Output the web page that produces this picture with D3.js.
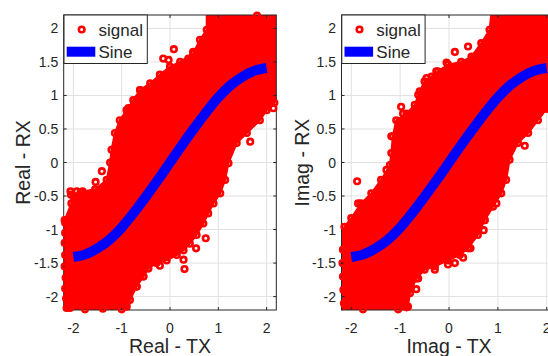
<!DOCTYPE html>
<html><head><meta charset="utf-8">
<script src="https://cdn.jsdelivr.net/npm/d3@7"></script>
<style>
body{margin:0;background:#fff}
svg{display:block}
text{font-family:'Liberation Sans',Arial,Helvetica,sans-serif;fill:#262626}
</style></head>
<body><svg id="c" width="548" height="356"></svg>
<script>
// ---- data ----
const xTicks = [-2, -1, 0, 1, 2];
const yTicks = [-2, -1.5, -1, -0.5, 0, 0.5, 1, 1.5, 2];
const xTickLabels = ["-2", "-1", "0", "1", "2"];
const yTickLabels = ["-2", "-1.5", "-1", "-0.5", "0", "0.5", "1", "1.5", "2"];
const legendLabels = ["signal", "Sine"];

const sineX = [-2, -1.75, -1.5, -1.25, -1, -0.75, -0.5, -0.25, 0, 0.25, 0.5, 0.75, 1, 1.25, 1.5, 1.75, 2];
const sineY = [-1.41, -1.37, -1.28, -1.15, -0.97, -0.75, -0.51, -0.26, 0, 0.26, 0.51, 0.75, 0.97, 1.15, 1.28, 1.37, 1.41];

// outline of the dense signal cloud, real part
const realCloudX = [0.76, 0.76, 0.62, 0.48, 0.21, 0, -0.21, -0.41, -0.62, -0.76, -0.9, -1.04, -1.14, -1.21, -1.24, -1.31, -1.55, -1.85, -2.05, -2.04, -2.18, -2.25, -2.25, -0.85, -0.83, -0.69, -0.55, -0.45, -0.28, -0.07, 0.14, 0.28, 0.41, 0.55, 0.69, 0.79, 0.9, 1.04, 1.14, 1.21, 1.38, 1.59, 1.86, 2.0, 2.16, 2.25, 2.25];
const realCloudY = [2.25, 1.98, 1.83, 1.63, 1.5, 1.43, 1.31, 1.18, 1.08, 0.93, 0.78, 0.63, 0.44, 0.19, 0.0, -0.26, -0.4, -0.44, -0.48, -0.61, -0.86, -1.0, -2.25, -2.25, -2.05, -1.85, -1.7, -1.58, -1.5, -1.46, -1.38, -1.31, -1.21, -1.08, -0.91, -0.76, -0.61, -0.46, -0.26, -0.01, 0.29, 0.44, 0.63, 0.78, 0.89, 1.0, 2.25];
// separate signal points around the cloud, real part
const realPtsX = [0.08, -0.14, -0.03, 0.38, 0.48, 0.69, -0.62, -0.86, -1.41, -1.54, -2.06, -1.93, -1.81, 2.14, 1.66, 1.8, 0.30, 0.74, 0.54, 0.28, -0.21, -0.45, -0.55, -0.69, -2.17, -2.17, -2.18, -2.17, -2.18, -2.16, -2.17, -2.15, -2.14, -2.07, -1.76, -1.39, -1.0, -0.9];
const realPtsY = [1.69, 1.55, 1.53, 1.55, 1.65, 1.83, 1.08, 0.81, -0.13, -0.29, -0.43, -0.43, -0.43, 0.81, 0.31, 2.19, -1.59, -1.13, -1.28, -1.45, -1.54, -1.58, -1.70, -1.85, -0.9, -1.05, -1.2, -1.38, -1.55, -1.72, -1.88, -2.03, -2.17, -2.17, -2.19, -2.18, -2.19, -2.15];

// outline of the dense signal cloud, imaginary part
const imagCloudX = [0.87, 0.83, 0.66, 0.46, 0.25, -0.02, -0.23, -0.36, -0.5, -0.6, -0.7, -0.87, -1.08, -1.15, -1.18, -1.21, -1.39, -1.59, -1.8, -2.0, -2.14, -2.25, -2.25, -0.84, -0.84, -0.8, -0.67, -0.5, -0.29, -0.02, 0.22, 0.39, 0.59, 0.73, 0.9, 1.07, 1.17, 1.24, 1.41, 1.62, 1.82, 2.0, 2.25, 2.25];
const imagCloudY = [2.25, 1.98, 1.78, 1.58, 1.5, 1.46, 1.36, 1.28, 1.21, 1.06, 0.86, 0.73, 0.63, 0.39, 0.14, -0.04, -0.26, -0.46, -0.61, -0.83, -0.96, -1.1, -2.25, -2.25, -2.15, -1.95, -1.73, -1.6, -1.55, -1.46, -1.38, -1.28, -1.08, -0.86, -0.66, -0.46, -0.26, 0.04, 0.29, 0.44, 0.63, 0.8, 0.95, 2.25];
// separate signal points around the cloud, imaginary part
const imagPtsX = [0.12, 0.39, 0.49, -0.05, -0.26, -0.46, -0.43, -0.63, -0.98, -0.94, -0.8, -1.18, 1.55, -1.28, -1.88, -1.86, 1.99, 0.71, 0.73, 0.44, 0.29, 0.12, -0.02, -0.29, -0.67, -0.63, 0.97, -2.17, -2.18, -2.17, -2.16, -2.15, -2.13, -1.76, -1.04, -0.87];
const imagPtsY = [1.65, 1.73, 1.55, 1.49, 1.36, 1.26, 1.13, 1.01, 0.83, 0.73, 0.66, 0.39, 0.25, -0.11, -0.28, -0.61, 0.83, -1.01, -0.86, -1.28, -1.42, -1.5, -1.52, -1.6, -1.89, -1.73, -0.61, -1.3, -1.5, -1.7, -1.9, -2.1, -2.13, -2.19, -2.19, -2.16];

// ---- drawing ----
const svg = d3.select("#c");
const TXT = "#262626";
const RED = "#ff0000";
const BLUE = "#0000ff";
const MR = 2.8, MW = 2.6;

const panels = [
  {id: "p1", x0: 63.7, x1: 276.3, cx: realCloudX, cy: realCloudY, px: realPtsX, py: realPtsY,
   xlabel: "Real - TX", ylabel: "Real - RX", ylabelX: 29.5},
  {id: "p2", x0: 341.5, x1: 556.5, cx: imagCloudX, cy: imagCloudY, px: imagPtsX, py: imagPtsY,
   xlabel: "Imag - TX", ylabel: "Imag - RX", ylabelX: 309.3}
];
const Y0 = 15, Y1 = 310;

panels.forEach(p => {
  const x = d3.scaleLinear().domain([-2.2, 2.2]).range([p.x0, p.x1]);
  const y = d3.scaleLinear().domain([-2.2, 2.2]).range([Y1, Y0]);
  const g = svg.append("g");

  g.append("clipPath").attr("id", "clip-" + p.id)
    .append("rect").attr("x", p.x0).attr("y", Y0).attr("width", p.x1 - p.x0).attr("height", Y1 - Y0);

  g.append("rect").attr("x", p.x0).attr("y", Y0).attr("width", p.x1 - p.x0).attr("height", Y1 - Y0).attr("fill", "#fff");

  // grid
  const grid = g.append("g").attr("stroke", "#e1e1e1").attr("stroke-width", 1);
  xTicks.forEach(t => grid.append("line").attr("x1", x(t)).attr("x2", x(t)).attr("y1", Y0).attr("y2", Y1));
  yTicks.forEach(t => grid.append("line").attr("x1", p.x0).attr("x2", p.x1).attr("y1", y(t)).attr("y2", y(t)));

  // cloud fill
  const poly = p.cx.map((v, i) => [x(v), y(p.cy[i])]);
  g.append("path").attr("clip-path", "url(#clip-" + p.id + ")")
    .attr("d", d3.line()(poly) + "Z").attr("fill", RED).attr("stroke", RED).attr("stroke-width", 2);

  // box & ticks
  const ax = g.append("g").attr("stroke", TXT).attr("stroke-width", 1).attr("fill", "none");
  ax.append("rect").attr("x", p.x0).attr("y", Y0).attr("width", p.x1 - p.x0).attr("height", Y1 - Y0);
  const tl = 3;
  xTicks.forEach(t => {
    ax.append("line").attr("x1", x(t)).attr("x2", x(t)).attr("y1", Y1).attr("y2", Y1 - tl);
    ax.append("line").attr("x1", x(t)).attr("x2", x(t)).attr("y1", Y0).attr("y2", Y0 + tl);
  });
  yTicks.forEach(t => {
    ax.append("line").attr("x1", p.x0).attr("x2", p.x0 + tl).attr("y1", y(t)).attr("y2", y(t));
    ax.append("line").attr("x1", p.x1).attr("x2", p.x1 - tl).attr("y1", y(t)).attr("y2", y(t));
  });

  // markers: cloud outline points + separate points
  const pts = p.cx.map((v, i) => [v, p.cy[i]]).concat(p.px.map((v, i) => [v, p.py[i]]))
    .filter(d => Math.abs(d[0]) <= 2.2 && Math.abs(d[1]) <= 2.2);
  g.append("g").selectAll("circle").data(pts).join("circle")
    .attr("cx", d => x(d[0])).attr("cy", d => y(d[1])).attr("r", MR)
    .attr("fill", "none").attr("stroke", RED).attr("stroke-width", MW);

  // sine line
  g.append("path").attr("clip-path", "url(#clip-" + p.id + ")")
    .attr("d", d3.line().x(d => x(d[0])).y(d => y(d[1])).curve(d3.curveMonotoneX)(sineX.map((v, i) => [v, sineY[i]])))
    .attr("fill", "none").attr("stroke", BLUE).attr("stroke-width", 10).attr("stroke-linecap", "butt");

  // tick labels
  xTicks.forEach((t, i) => g.append("text").attr("x", x(t)).attr("y", 333).attr("text-anchor", "middle")
    .attr("font-size", 14).text(xTickLabels[i]));
  yTicks.forEach((t, i) => g.append("text").attr("x", p.x0 - 5.5).attr("y", y(t)).attr("dy", "0.36em")
    .attr("text-anchor", "end").attr("font-size", 14).text(yTickLabels[i]));

  // axis labels
  g.append("text").attr("x", (p.x0 + p.x1) / 2).attr("y", 352.5).attr("text-anchor", "middle")
    .attr("font-size", 19.5).text(p.xlabel);
  g.append("text").attr("transform", `translate(${p.ylabelX},${(Y0 + Y1) / 2}) rotate(-90)`)
    .attr("text-anchor", "middle").attr("font-size", 19.5).text(p.ylabel);

  // legend
  const lx = p.x0 + 0.3, ly = Y0;
  const lg = g.append("g");
  lg.append("rect").attr("x", lx).attr("y", ly).attr("width", 83.3).attr("height", 48.5)
    .attr("fill", "#fff").attr("stroke", TXT).attr("stroke-width", 1);
  lg.append("circle").attr("cx", lx + 17.7).attr("cy", ly + 14.5).attr("r", MR)
    .attr("fill", "none").attr("stroke", RED).attr("stroke-width", MW);
  lg.append("text").attr("x", lx + 34.5).attr("y", ly + 20.8).attr("font-size", 17).text(legendLabels[0]);
  lg.append("line").attr("x1", lx + 2.7).attr("x2", lx + 31.3).attr("y1", ly + 36.7).attr("y2", ly + 36.7)
    .attr("stroke", BLUE).attr("stroke-width", 10);
  lg.append("text").attr("x", lx + 34.5).attr("y", ly + 42.6).attr("font-size", 17).text(legendLabels[1]);
});
</script></body></html>
